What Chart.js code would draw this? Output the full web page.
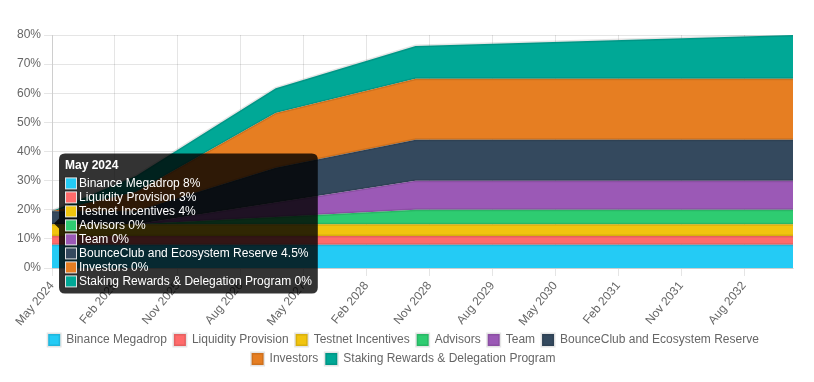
<!DOCTYPE html>
<html>
<head>
<meta charset="utf-8">
<title>Token Unlock Schedule</title>
<script src="https://cdn.jsdelivr.net/npm/chart.js@4/dist/chart.umd.min.js"></script>
<style>
    html, body { margin: 0; padding: 0; background: #fff; }
    #wrap { width: 814px; height: 382px; }
</style>
</head>
<body>
<div id="wrap"><canvas id="unlock-chart" width="814" height="382"></canvas></div>
<script>
// x axis starts at May 2024, one label per month
const startYear = 2024;
const startMonth = 4; // May
const monthCount = 107;
const monthNames = ['Jan', 'Feb', 'Mar', 'Apr', 'May', 'Jun', 'Jul', 'Aug', 'Sep', 'Oct', 'Nov', 'Dec'];

// months where the unlock lines bend
const keyMonths = ['May 2024', 'May 2025', 'Jan 2027', 'Sep 2028', 'Mar 2033'];

// cumulative unlocked share of total supply (%) at each key month
const megadrop   = [8, 8, 8, 8, 8];
const liquidity  = [3, 3, 3, 3, 3];
const testnet    = [4, 4, 4, 4, 4];
const advisors   = [0, 0, 2.5, 5, 5];
const team       = [0, 0, 5, 10, 10];
const bounceClub = [4.5, 4.5, 11.9, 14, 14];
const investors  = [0, 6.6, 18.8, 21, 21];
const staking    = [0, 5.5, 8.5, 11.2, 15];

const seriesNames = [
    'Binance Megadrop',
    'Liquidity Provision',
    'Testnet Incentives',
    'Advisors',
    'Team',
    'BounceClub and Ecosystem Reserve',
    'Investors',
    'Staking Rewards & Delegation Program'
];
const seriesData = [megadrop, liquidity, testnet, advisors, team, bounceClub, investors, staking];
const seriesColors = ['#24CBF5', '#FF6B6B', '#F1C40F', '#2ECC71', '#9B59B6', '#34495E', '#E67E22', '#00A896'];

const yTicks = [0, 10, 20, 30, 40, 50, 60, 70, 80];

Chart.defaults.font.family = "'Liberation Sans', Arial, sans-serif";
Chart.defaults.font.size = 12;
Chart.defaults.color = '#666';

document.addEventListener('DOMContentLoaded', function() {
    drawUnlockChart();
});

function buildMonthLabels() {
    const labels = [];
    for (let i = 0; i < monthCount; i++) {
        const m = (startMonth + i) % 12;
        const y = startYear + Math.floor((startMonth + i) / 12);
        labels.push(monthNames[m] + ' ' + y);
    }
    return labels;
}

function drawUnlockChart() {
    const ctx = document.getElementById('unlock-chart');

    const datasets = seriesNames.map((name, i) => ({
        label: name,
        data: keyMonths.map((m, j) => ({ x: m, y: seriesData[i][j] })),
        backgroundColor: seriesColors[i],
        borderColor: 'rgba(0,0,0,0.1)',
        borderWidth: 3,
        fill: i === 0 ? 'origin' : '-1',
        pointRadius: 0,
        pointHoverRadius: 0,
        tension: 0
    }));

    const chart = new Chart(ctx, {
        type: 'line',
        data: { labels: buildMonthLabels(), datasets: datasets },
        options: {
            responsive: false,
            animation: false,
            layout: { padding: { left: 14, right: 21, top: 35, bottom: 7 } },
            interaction: { mode: 'index', intersect: false },
            scales: {
                x: {
                    afterFit: axis => { axis.height = 59; },
                    ticks: {
                        minRotation: 50,
                        maxRotation: 50,
                        autoSkip: true,
                        maxTicksLimit: 12
                    },
                    grid: { color: 'rgba(0,0,0,0.1)' }
                },
                y: {
                    stacked: true,
                    min: 0,
                    max: 80,
                    afterBuildTicks: axis => { axis.ticks = yTicks.map(v => ({ value: v })); },
                    ticks: { callback: v => v + '%' },
                    grid: { color: 'rgba(0,0,0,0.1)' }
                }
            },
            plugins: {
                legend: {
                    position: 'bottom',
                    labels: { boxWidth: 12, boxHeight: 12, padding: 7 }
                },
                tooltip: {
                    backgroundColor: 'rgba(0,0,0,0.8)',
                    titleFont: { weight: 'bold', size: 12, lineHeight: 1 },
                    bodyFont: { weight: 'normal', size: 12, lineHeight: 1 },
                    callbacks: {
                        label: c => c.dataset.label + ' ' + c.parsed.y + '%'
                    }
                }
            }
        }
    });

    // show the tooltip for the first month, as in the screenshot
    const active = datasets.map((d, i) => ({ datasetIndex: i, index: 0 }));
    const pt = chart.getDatasetMeta(0).data[0];
    chart.tooltip.setActiveElements(active, { x: pt.x, y: pt.y });
    chart.update();
}
</script>
</body>
</html>
